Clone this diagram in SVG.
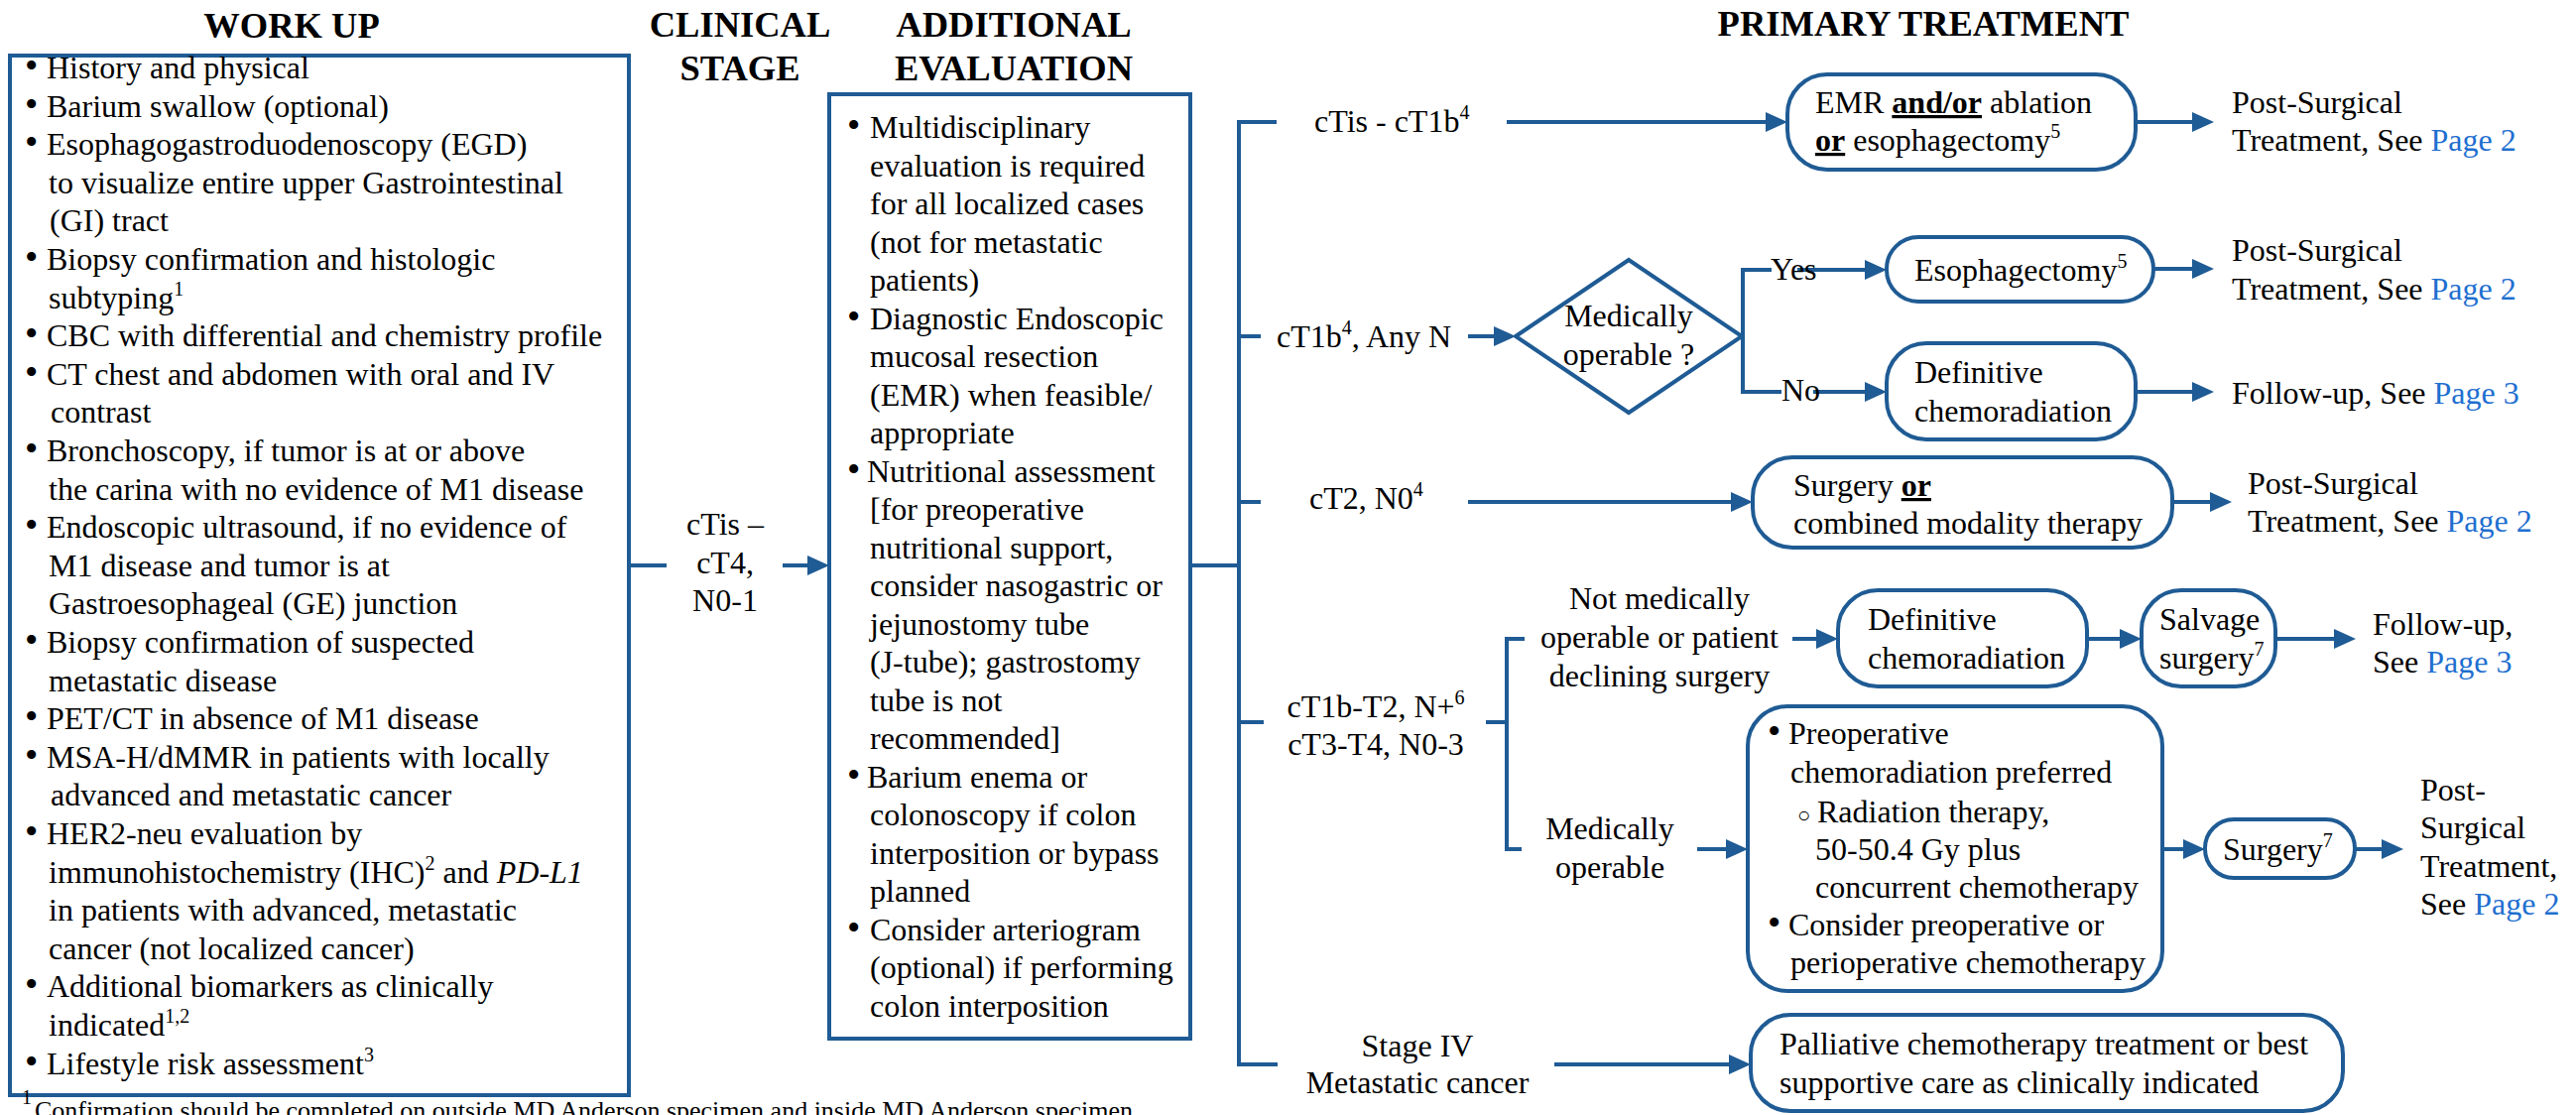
<svg xmlns="http://www.w3.org/2000/svg" width="2597" height="1124" viewBox="0 0 2597 1124">
<style>
text{font-family:"Liberation Serif","Times New Roman",serif;font-size:32px;fill:#000}
.h{font-size:36.5px;font-weight:bold;text-anchor:middle}
.c{text-anchor:middle}
.s{font-size:20px}
.bu{font-size:38px}
.lk{fill:#1F6FD0}
.b{font-weight:bold;text-decoration:underline}
.box{fill:#fff;stroke:#1F5B94;stroke-width:4}
.ln{fill:none;stroke:#1F5B94;stroke-width:4}
.ar{marker-end:url(#ah)}
.fn{font-size:26px}
</style>
<defs>
<marker id="ah" markerUnits="userSpaceOnUse" viewBox="0 0 22 20" markerWidth="22" markerHeight="20" refX="12" refY="10" orient="auto"><path d="M0,0 L22,10 L0,20 Z" fill="#1F5B94"/></marker>
</defs>
<rect width="2597" height="1124" fill="#fff"/>

<g id="headers">
<text class="h" x="294" y="38">WORK UP</text>
<text class="h" x="746" y="37">CLINICAL</text>
<text class="h" x="746" y="81">STAGE</text>
<text class="h" x="1022" y="37">ADDITIONAL</text>
<text class="h" x="1022" y="81">EVALUATION</text>
<text class="h" x="1939" y="36">PRIMARY TREATMENT</text>
</g>

<g id="connectors">
<path class="ln" d="M634,570 H672"/>
<path class="ln ar" d="M789,570 H826"/>
<path class="ln" d="M1200,570 H1249"/>
<path class="ln" d="M1287,123 H1249 V1073 H1288 M1249,339 H1271 M1249,506 H1271 M1249,728 H1274"/>
<path class="ln ar" d="M1519,123 H1792"/>
<path class="ln ar" d="M1480,339 H1518"/>
<path class="ln" d="M1786,272 H1757 V395 H1796"/>
<path class="ln ar" d="M1812,272 H1892"/>
<path class="ln ar" d="M1828,395 H1892"/>
<path class="ln ar" d="M2153,123 H2222"/>
<path class="ln ar" d="M2171,271 H2222"/>
<path class="ln ar" d="M2153,395 H2222"/>
<path class="ln ar" d="M1480,506 H1757"/>
<path class="ln ar" d="M2190,506 H2240"/>
<path class="ln" d="M1498,728 H1519 M1537,644 H1519 V856 H1534"/>
<path class="ln ar" d="M1807,644 H1843"/>
<path class="ln ar" d="M2104,644 H2149"/>
<path class="ln ar" d="M2294,644 H2365"/>
<path class="ln ar" d="M1711,856 H1752"/>
<path class="ln ar" d="M2180,856 H2213"/>
<path class="ln ar" d="M2374,856 H2413"/>
<path class="ln ar" d="M1567,1073 H1755"/>
</g>

<g id="workup">
<rect class="box" x="10" y="56" width="624" height="1048"/>
<text>
<tspan class="bu" x="25" y="79">•</tspan><tspan x="47">History and physical</tspan>
<tspan class="bu" x="25" y="117.6">•</tspan><tspan x="47">Barium swallow (optional)</tspan>
<tspan class="bu" x="25" y="156.2">•</tspan><tspan x="47">Esophagogastroduodenoscopy (EGD)</tspan>
<tspan x="49" y="194.8">to visualize entire upper Gastrointestinal</tspan>
<tspan x="50" y="233.4">(GI) tract</tspan>
<tspan class="bu" x="25" y="272">•</tspan><tspan x="47">Biopsy confirmation and histologic</tspan>
<tspan x="49" y="310.6">subtyping<tspan class="s" dy="-13">1</tspan></tspan>
<tspan class="bu" x="25" y="349.2">•</tspan><tspan x="47">CBC with differential and chemistry profile</tspan>
<tspan class="bu" x="25" y="387.8">•</tspan><tspan x="47">CT chest and abdomen with oral and IV</tspan>
<tspan x="51" y="426.4">contrast</tspan>
<tspan class="bu" x="25" y="465">•</tspan><tspan x="47">Bronchoscopy, if tumor is at or above</tspan>
<tspan x="49" y="503.6">the carina with no evidence of M1 disease</tspan>
<tspan class="bu" x="25" y="542.2">•</tspan><tspan x="47">Endoscopic ultrasound, if no evidence of</tspan>
<tspan x="49" y="580.8">M1 disease and tumor is at</tspan>
<tspan x="49" y="619.4">Gastroesophageal (GE) junction</tspan>
<tspan class="bu" x="25" y="658">•</tspan><tspan x="47">Biopsy confirmation of suspected</tspan>
<tspan x="49" y="696.6">metastatic disease</tspan>
<tspan class="bu" x="25" y="735.2">•</tspan><tspan x="47">PET/CT in absence of M1 disease</tspan>
<tspan class="bu" x="25" y="773.8">•</tspan><tspan x="47">MSA-H/dMMR in patients with locally</tspan>
<tspan x="51" y="812.4">advanced and metastatic cancer</tspan>
<tspan class="bu" x="25" y="851">•</tspan><tspan x="47">HER2-neu evaluation by</tspan>
<tspan x="49" y="889.6">immunohistochemistry (IHC)<tspan class="s" dy="-13">2</tspan><tspan dy="13"> and </tspan><tspan font-style="italic">PD-L1</tspan></tspan>
<tspan x="49" y="928.2">in patients with advanced, metastatic</tspan>
<tspan x="49" y="966.8">cancer (not localized cancer)</tspan>
<tspan class="bu" x="25" y="1005.4">•</tspan><tspan x="47">Additional biomarkers as clinically</tspan>
<tspan x="49" y="1044">indicated<tspan class="s" dy="-13">1,2</tspan></tspan>
<tspan class="bu" x="25" y="1082.6">•</tspan><tspan x="47">Lifestyle risk assessment<tspan class="s" dy="-13">3</tspan></tspan>
</text>
</g>

<g id="footnote">
<text><tspan class="s" x="22" y="1113">1</tspan><tspan class="fn" x="35" y="1128">Confirmation should be completed on outside MD Anderson specimen and inside MD Anderson specimen</tspan></text>
</g>

<g id="clinical-stage">
<text class="c"><tspan x="731" y="539">cTis –</tspan><tspan x="731" y="578">cT4,</tspan><tspan x="731" y="616">N0-1</tspan></text>
</g>

<g id="additional-evaluation">
<rect class="box" x="836" y="95" width="364" height="952"/>
<text>
<tspan class="bu" x="854" y="139">•</tspan><tspan x="877">Multidisciplinary</tspan>
<tspan x="877" y="177.5">evaluation is required</tspan>
<tspan x="877" y="216">for all localized cases</tspan>
<tspan x="877" y="254.5">(not for metastatic</tspan>
<tspan x="877" y="293">patients)</tspan>
<tspan class="bu" x="854" y="331.5">•</tspan><tspan x="877">Diagnostic Endoscopic</tspan>
<tspan x="877" y="370">mucosal resection</tspan>
<tspan x="877" y="408.5">(EMR) when feasible/</tspan>
<tspan x="877" y="447">appropriate</tspan>
<tspan class="bu" x="854" y="485.5">•</tspan><tspan x="874">Nutritional assessment</tspan>
<tspan x="877" y="524">[for preoperative</tspan>
<tspan x="877" y="562.5">nutritional support,</tspan>
<tspan x="877" y="601">consider nasogastric or</tspan>
<tspan x="877" y="639.5">jejunostomy tube</tspan>
<tspan x="877" y="678">(J-tube); gastrostomy</tspan>
<tspan x="877" y="716.5">tube is not</tspan>
<tspan x="877" y="755">recommended]</tspan>
<tspan class="bu" x="854" y="793.5">•</tspan><tspan x="874">Barium enema or</tspan>
<tspan x="877" y="832">colonoscopy if colon</tspan>
<tspan x="877" y="870.5">interposition or bypass</tspan>
<tspan x="877" y="909">planned</tspan>
<tspan class="bu" x="854" y="947.5">•</tspan><tspan x="877">Consider arteriogram</tspan>
<tspan x="877" y="986">(optional) if performing</tspan>
<tspan x="877" y="1024.5">colon interposition</tspan>
</text>
</g>

<g id="stage-ctis">
<text x="1325" y="133">cTis - cT1b<tspan class="s" dy="-13">4</tspan></text>
</g>
<g id="stage-ct1b">
<text x="1287" y="350">cT1b<tspan class="s" dy="-13">4</tspan><tspan dy="13">, Any N</tspan></text>
</g>
<g id="decision-operable">
<polygon class="box" points="1528,339 1642,262 1756,339 1642,416"/>
<text class="c"><tspan x="1642" y="329">Medically</tspan><tspan x="1642" y="368">operable ?</tspan></text>
</g>
<g id="label-yes"><text x="1785" y="282">Yes</text></g>
<g id="label-no"><text x="1796" y="404">No</text></g>

<g id="emr">
<rect class="box" x="1802" y="75" width="351" height="96" rx="40"/>
<text><tspan x="1830" y="114">EMR <tspan class="b">and/or</tspan> ablation</tspan><tspan x="1830" y="152"><tspan class="b">or</tspan> esophagectomy<tspan class="s" dy="-13">5</tspan></tspan></text>
</g>
<g id="esophagectomy">
<rect class="box" x="1902" y="239" width="269" height="65" rx="32"/>
<text x="1930" y="283">Esophagectomy<tspan class="s" dy="-13">5</tspan></text>
</g>
<g id="def-chemo-1">
<rect class="box" x="1902" y="346" width="251" height="97" rx="40"/>
<text><tspan x="1930" y="386">Definitive</tspan><tspan x="1930" y="425">chemoradiation</tspan></text>
</g>
<g id="post-1">
<text><tspan x="2250" y="114">Post-Surgical</tspan><tspan x="2250" y="152">Treatment, See <tspan class="lk">Page 2</tspan></tspan></text>
</g>
<g id="post-2">
<text><tspan x="2250" y="263">Post-Surgical</tspan><tspan x="2250" y="302">Treatment, See <tspan class="lk">Page 2</tspan></tspan></text>
</g>
<g id="follow-1">
<text x="2250" y="407">Follow-up, See <tspan class="lk">Page 3</tspan></text>
</g>

<g id="stage-ct2">
<text x="1320" y="513">cT2, N0<tspan class="s" dy="-13">4</tspan></text>
</g>
<g id="surgery-or">
<rect class="box" x="1767" y="461" width="423" height="91" rx="40"/>
<text><tspan x="1808" y="500">Surgery <tspan class="b">or</tspan></tspan><tspan x="1808" y="538">combined modality therapy</tspan></text>
</g>
<g id="post-3">
<text><tspan x="2266" y="498">Post-Surgical</tspan><tspan x="2266" y="536">Treatment, See <tspan class="lk">Page 2</tspan></tspan></text>
</g>

<g id="stage-ct1b-t4">
<text class="c"><tspan x="1387" y="723">cT1b-T2, N+<tspan class="s" dy="-13">6</tspan></tspan><tspan x="1387" y="761">cT3-T4, N0-3</tspan></text>
</g>
<g id="not-operable">
<text class="c"><tspan x="1673" y="614">Not medically</tspan><tspan x="1673" y="653">operable or patient</tspan><tspan x="1673" y="692">declining surgery</tspan></text>
</g>
<g id="def-chemo-2">
<rect class="box" x="1853" y="595" width="251" height="97" rx="40"/>
<text><tspan x="1883" y="635">Definitive</tspan><tspan x="1883" y="674">chemoradiation</tspan></text>
</g>
<g id="salvage">
<rect class="box" x="2159" y="595" width="135" height="97" rx="40"/>
<text><tspan x="2177" y="635">Salvage</tspan><tspan x="2177" y="674">surgery<tspan class="s" dy="-13">7</tspan></tspan></text>
</g>
<g id="follow-2">
<text><tspan x="2392" y="640">Follow-up,</tspan><tspan x="2392" y="678">See <tspan class="lk">Page 3</tspan></tspan></text>
</g>
<g id="operable">
<text class="c"><tspan x="1623" y="846">Medically</tspan><tspan x="1623" y="885">operable</tspan></text>
</g>
<g id="preop">
<rect class="box" x="1762" y="712" width="418" height="287" rx="40"/>
<text>
<tspan class="bu" x="1782" y="750">•</tspan><tspan x="1803">Preoperative</tspan>
<tspan x="1805" y="789">chemoradiation preferred</tspan>
<tspan x="1812" y="829" font-size="22">○</tspan><tspan x="1832">Radiation therapy,</tspan>
<tspan x="1830" y="867">50-50.4 Gy plus</tspan>
<tspan x="1830" y="905">concurrent chemotherapy</tspan>
<tspan class="bu" x="1782" y="943">•</tspan><tspan x="1803">Consider preoperative or</tspan>
<tspan x="1805" y="981">perioperative chemotherapy</tspan>
</text>
</g>
<g id="surgery">
<rect class="box" x="2223" y="826" width="151" height="59" rx="29"/>
<text x="2241" y="867">Surgery<tspan class="s" dy="-13">7</tspan></text>
</g>
<g id="post-4">
<text><tspan x="2440" y="807">Post-</tspan><tspan x="2440" y="845">Surgical</tspan><tspan x="2440" y="884">Treatment,</tspan><tspan x="2440" y="922">See <tspan class="lk">Page 2</tspan></tspan></text>
</g>

<g id="stage-iv">
<text class="c"><tspan x="1429" y="1065">Stage IV</tspan><tspan x="1429" y="1102">Metastatic cancer</tspan></text>
</g>
<g id="palliative">
<rect class="box" x="1765" y="1023" width="597" height="97" rx="40"/>
<text><tspan x="1794" y="1063">Palliative chemotherapy treatment or best</tspan><tspan x="1794" y="1102">supportive care as clinically indicated</tspan></text>
</g>
</svg>
